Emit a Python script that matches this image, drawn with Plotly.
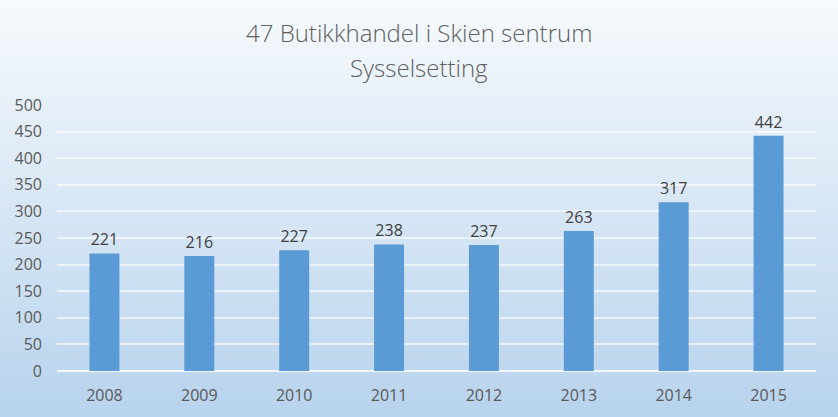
import plotly.graph_objects as go

years = ["2008", "2009", "2010", "2011", "2012", "2013", "2014", "2015"]
values = [221, 216, 227, 238, 237, 263, 317, 442]
title_lines = ["47 Butikkhandel i Skien sentrum", "Sysselsetting"]
y_ticks = [0, 50, 100, 150, 200, 250, 300, 350, 400, 450, 500]

FONT = "Open Sans"
W, H = 838, 417
ML, MR, MT, MB = 57, 22, 105, 46
PW, PH = W - ML - MR, H - MT - MB

fig = go.Figure()
fig.add_trace(go.Bar(
    x=years, y=values,
    marker=dict(color="#5B9BD5", line=dict(width=0)),
    text=[str(v) for v in values],
    textposition="outside",
    textfont=dict(family=FONT, size=16, color="#404040"),
    cliponaxis=False,
))

# background gradient over the whole picture (top near-white to bottom light blue)
top = (247, 250, 253)
bot = (184, 211, 237)
n = 90
shapes = []
for i in range(n):
    t = (i + 0.5) / n
    c = tuple(round(top[k] + (bot[k] - top[k]) * t) for k in range(3))
    py_top = i * H / n
    py_bot = (i + 1) * H / n
    y1 = (H - MB - py_top) / PH
    y0 = (H - MB - py_bot) / PH
    shapes.append(dict(type="rect", xref="paper", yref="paper",
                       x0=-ML / PW - 0.01, x1=1 + MR / PW + 0.01,
                       y0=y0 - 0.004, y1=y1 + 0.004,
                       fillcolor="rgb(%d,%d,%d)" % c, line=dict(width=0),
                       layer="below"))

annotations = []
for txt, ypx in zip(title_lines, [32, 67]):
    annotations.append(dict(text=txt, xref="paper", yref="paper",
                            x=(419 - ML) / PW, y=(H - MB - ypx) / PH,
                            xanchor="center", yanchor="middle", showarrow=False,
                            font=dict(family=FONT, size=24, color="#606060", weight=300)))

fig.update_layout(
    width=W, height=H,
    margin=dict(l=ML, r=MR, t=MT, b=MB),
    paper_bgcolor="#d5e4f3",
    plot_bgcolor="rgba(0,0,0,0)",
    shapes=shapes,
    annotations=annotations,
    bargap=0.684,
    showlegend=False,
    font=dict(family=FONT, color="#595959"),
    xaxis=dict(showgrid=False, showline=False, zeroline=False,
               tickfont=dict(family=FONT, size=16, color="#595959"),
               ticks="", ticklabelstandoff=13),
    yaxis=dict(range=[0, 500], tickvals=y_ticks,
               showgrid=True, gridcolor="rgba(255,255,255,0.6)", gridwidth=1.5,
               zeroline=True, zerolinecolor="rgba(255,255,255,0.8)", zerolinewidth=1.5,
               showline=False, ticks="",
               tickfont=dict(family=FONT, size=16, color="#595959"),
               ticklabelstandoff=14),
)

fig.write_html("out.html")
